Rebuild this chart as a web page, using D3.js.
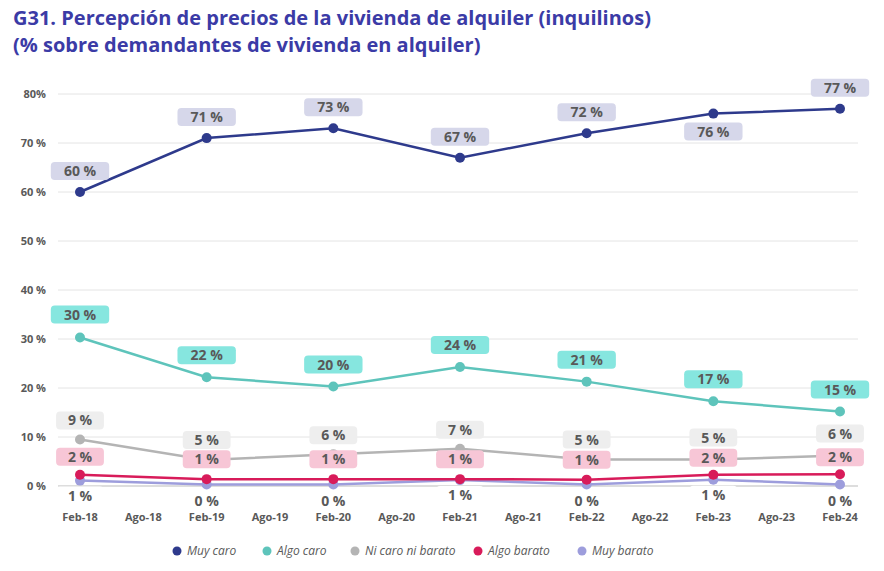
<!DOCTYPE html>
<html><head><meta charset="utf-8">
<script src="https://cdn.jsdelivr.net/npm/d3@7"></script>
<style>
body{margin:0;background:#fff;font-family:"Open Sans",sans-serif;}
</style></head>
<body><div id="chart-area"></div>
<script>
const periods = ['Feb-18','Ago-18','Feb-19','Ago-19','Feb-20','Ago-20','Feb-21','Ago-21','Feb-22','Ago-22','Feb-23','Ago-23','Feb-24'];
const dataPeriods = ['Feb-18','Feb-19','Feb-20','Feb-21','Feb-22','Feb-23','Feb-24'];
const seriesNames = ['Muy caro','Algo caro','Ni caro ni barato','Algo barato','Muy barato'];
const muyCaro = [60,71,73,67,72,76,77];
const algoCaro = [30.3,22.2,20.3,24.3,21.3,17.3,15.2];
const niCaro = [9.5,5.3,6.5,7.6,5.4,5.4,6.2];
const algoBarato = [2.3,1.4,1.4,1.4,1.3,2.3,2.4];
const muyBarato = [1.1,0.3,0.3,1.2,0.3,1.3,0.3];
const labels = [
  ['60 %','71 %','73 %','67 %','72 %','76 %','77 %'],
  ['30 %','22 %','20 %','24 %','21 %','17 %','15 %'],
  ['9 %','5 %','6 %','7 %','5 %','5 %','6 %'],
  ['2 %','1 %','1 %','1 %','1 %','2 %','2 %'],
  ['1 %','0 %','0 %','1 %','0 %','1 %','0 %']
];
const yTicks = [0,10,20,30,40,50,60,70,80];

const lineColors = ['#2e3a8c','#5ec4bb','#b4b4b4','#d81b5a','#9d9ddc'];
const boxColors = ['#d6d7ea','#86e6df','#eeeeee','#f7c6d6','#ffffff'];
const labelDy = [[-21,-21,-21,-21,-21,18,-21],[-23,-22,-22,-22,-22,-22,-22],[-19,-20,-19,-19,-20,-22,-22],[-18,-20,-20,-20,-20,-17,-17],[15,16,16,15,16,15,16]];

const W = 884, H = 571;
const svg = d3.select('#chart-area').append('svg').attr('width',W).attr('height',H);

svg.append('text').attr('x',13).attr('y',25).attr('fill','#3b3ba6').style('font-size','20px').style('font-weight','bold')
  .text('G31. Percepción de precios de la vivienda de alquiler (inquilinos)');
svg.append('text').attr('x',13).attr('y',52).attr('fill','#3b3ba6').style('font-size','20px').style('font-weight','bold')
  .text('(% sobre demandantes de vivienda en alquiler)');

const x = d3.scalePoint().domain(periods).range([80,840]);
const y = d3.scaleLinear().domain([0,80]).range([486,94]);

const grid = svg.append('g');
grid.selectAll('line').data(yTicks).enter().append('line')
  .attr('x1',58).attr('x2',858).attr('y1',d=>y(d)).attr('y2',d=>y(d))
  .attr('stroke',d=>d===0?'#bbbbbb':'#e4e4e4');
grid.selectAll('text').data(yTicks).enter().append('text')
  .attr('x',46).attr('y',d=>y(d)+4).attr('text-anchor','end')
  .attr('fill','#595959').style('font-size','11px').style('font-weight','bold')
  .text(d=>d===80?'80%':d+' %');

svg.append('g').selectAll('text').data(periods).enter().append('text')
  .attr('x',d=>x(d)).attr('y',521).attr('text-anchor','middle')
  .attr('fill','#595959').style('font-size','11px').style('font-weight','bold').text(d=>d);

const all = [muyCaro,algoCaro,niCaro,algoBarato,muyBarato];
const line = d3.line().x((d,i)=>x(dataPeriods[i])).y(d=>y(d));

[4,3,2,1,0].forEach(s=>{
  const g = svg.append('g');
  g.append('path').datum(all[s]).attr('d',line).attr('fill','none')
    .attr('stroke',lineColors[s]).attr('stroke-width',2.5);
  g.selectAll('circle').data(all[s]).enter().append('circle')
    .attr('cx',(d,i)=>x(dataPeriods[i])).attr('cy',d=>y(d)).attr('r',5).attr('fill',lineColors[s]);
});
[4,3,2,1,0].forEach(s=>{
  const lg = svg.append('g').selectAll('g').data(all[s]).enter().append('g')
    .attr('transform',(d,i)=>`translate(${x(dataPeriods[i])},${y(d)+labelDy[s][i]})`);
  lg.append('rect').attr('x',(d,i)=>-(labels[s][i].length*5.3+8)).attr('y',-9)
    .attr('width',(d,i)=>2*(labels[s][i].length*5.3+8)).attr('height',18).attr('rx',4)
    .attr('fill',boxColors[s]);
  lg.append('text').attr('text-anchor','middle').attr('dy','0.36em')
    .attr('fill','#595959').style('font-size','14px').style('font-weight','bold')
    .text((d,i)=>labels[s][i]);
});

const legendX = [177,267,355,478,582];
const leg = svg.append('g').selectAll('g').data(seriesNames).enter().append('g')
  .attr('transform',(d,i)=>`translate(${legendX[i]},551)`);
leg.append('circle').attr('r',4.5).attr('fill',(d,i)=>lineColors[i]);
leg.append('text').attr('x',10).attr('dy','0.35em').attr('fill','#595959')
  .style('font-size','12px').style('font-style','italic').text(d=>d);
</script></body></html>
